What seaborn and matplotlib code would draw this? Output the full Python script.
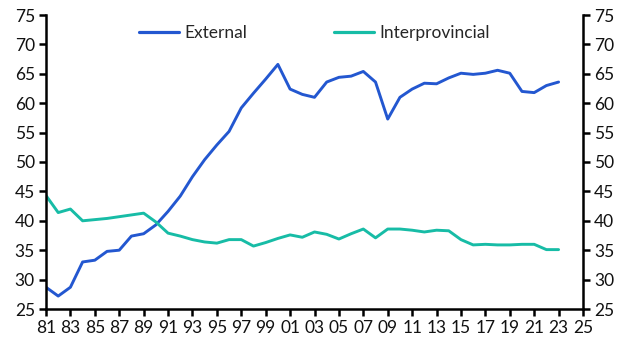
import matplotlib
matplotlib.use("Agg")
import matplotlib.pyplot as plt
import seaborn as sns
import pandas as pd

years = list(range(1981, 2024))
external = [28.7, 27.2, 28.7, 33.0, 33.3, 34.8, 35.0, 37.4, 37.8, 39.3,
            41.6, 44.2, 47.5, 50.4, 52.9, 55.2, 59.2, 61.7, 64.1, 66.6,
            62.4, 61.5, 61.0, 63.6, 64.4, 64.6, 65.4, 63.6, 57.3, 61.0,
            62.4, 63.4, 63.3, 64.3, 65.1, 64.9, 65.1, 65.6, 65.1, 62.0,
            61.8, 63.0, 63.6]
interprovincial = [44.3, 41.4, 42.0, 40.0, 40.2, 40.4, 40.7, 41.0, 41.3, 39.8,
                   37.9, 37.4, 36.8, 36.4, 36.2, 36.8, 36.8, 35.7, 36.3, 37.0,
                   37.6, 37.2, 38.1, 37.7, 36.9, 37.8, 38.6, 37.1, 38.6, 38.6,
                   38.4, 38.1, 38.4, 38.3, 36.8, 35.9, 36.0, 35.9, 35.9, 36.0,
                   36.0, 35.1, 35.1]
series_names = ["External", "Interprovincial"]
xticks = list(range(1981, 2026, 2))
xtick_labels = [f"{y % 100:02d}" for y in xticks]
yticks = list(range(25, 80, 5))

df = pd.DataFrame({
    "year": years * 2,
    "value": external + interprovincial,
    "series": [series_names[0]] * len(years) + [series_names[1]] * len(years),
})

sns.set_theme(style="white")
plt.rcParams["font.family"] = ["Lato", "DejaVu Sans"]

fig = plt.figure(figsize=(6.29, 3.54), dpi=100)
ax = fig.add_axes([46 / 629, 1 - 309 / 354, (583 - 46) / 629, (309 - 15) / 354])

palette = {"External": "#2357D0", "Interprovincial": "#17BCA6"}
sns.lineplot(data=df, x="year", y="value", hue="series", palette=palette,
             linewidth=2.1, ax=ax)

ax.set_xlim(1981, 2025)
ax.set_ylim(25, 75)
ax.set_xticks(xticks)
ax.set_xticklabels(xtick_labels)
ax.set_yticks(yticks)
ax.set_xlabel("")
ax.set_ylabel("")

for side in ["left", "bottom", "right"]:
    ax.spines[side].set_visible(True)
    ax.spines[side].set_color("black")
    ax.spines[side].set_linewidth(1.8)
ax.spines["top"].set_visible(False)

ax.tick_params(axis="both", which="major", direction="out", length=5, width=1.8,
               color="black", labelsize=12.5, labelcolor="#111111", pad=3)
ax.tick_params(axis="y", left=True, right=True, labelleft=True, labelright=True)
ax.tick_params(axis="x", bottom=True)

leg = ax.legend(loc="upper center", bbox_to_anchor=(0.5, 1.02), ncol=2,
                frameon=False, fontsize=12.5, handlelength=2.3,
                columnspacing=5.0, handletextpad=0.3)
for line in leg.get_lines():
    line.set_linewidth(2.3)

fig.savefig("out.png", dpi=100)
